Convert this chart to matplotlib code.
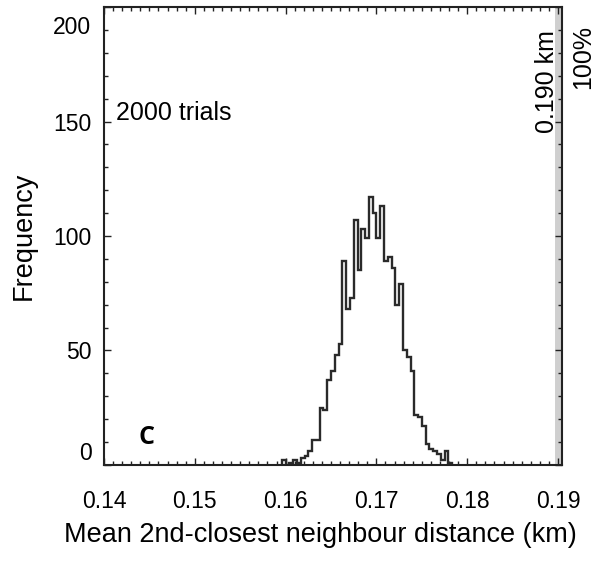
import numpy as np
import matplotlib
matplotlib.use("Agg")
import matplotlib.pyplot as plt
from matplotlib.ticker import MultipleLocator
from matplotlib.transforms import ScaledTranslation

plt.rcParams['font.family'] = ['Liberation Sans', 'DejaVu Sans']

# histogram data
bin_start = 0.15958      # km, left edge of first bin
bin_width = 0.000417     # km
counts = [2, 0, 1, 2, 1, 3, 4, 6, 11, 11, 25, 24, 37, 41, 48, 53,
          89, 68, 73, 107, 85, 103, 99, 117, 110, 99, 113, 89, 91, 86, 70,
          79, 50, 47, 41, 22, 21, 17, 9, 7, 6, 5, 2, 6, 1]
observed_km = 0.190
n_trials = 2000

x_ticks = [0.14, 0.15, 0.16, 0.17, 0.18, 0.19]
x_ticklabels = ['0.14', '0.15', '0.16', '0.17', '0.18', '0.19']
y_ticks = [0, 50, 100, 150, 200]

edges = bin_start + bin_width * np.arange(len(counts) + 1)

fig = plt.figure(figsize=(5.98, 5.65), dpi=100)
ax = fig.add_axes([0.1739, 0.177, 0.9398 - 0.1739, 0.9876 - 0.177])

ax.axvline(observed_km, color='#cfcfcf', lw=5, zorder=1)
ax.stairs(counts, edges, baseline=0, fill=False, color='#2a2a2a', lw=1.7, zorder=3)

ax.set_xlim(0.14, 0.19044)
ax.set_ylim(0, 200)
ax.set_xticks(x_ticks)
ax.set_xticklabels(x_ticklabels)
ax.set_yticks(y_ticks)
ax.xaxis.set_minor_locator(MultipleLocator(0.001))
ax.yaxis.set_minor_locator(MultipleLocator(10))
ax.tick_params(which='both', direction='in', top=True, right=True,
               width=1.0, color='#222222')
ax.tick_params(which='major', length=5)
ax.tick_params(which='minor', length=3)
ax.tick_params(axis='x', which='major', labelsize=16.5, pad=18)
ax.tick_params(axis='y', which='major', labelsize=16.5, pad=9)
for sp in ax.spines.values():
    sp.set_linewidth(1.5)
    sp.set_color('#222222')
    sp.set_zorder(4)

yt = ax.yaxis.get_major_ticks()
yt[0].label1.set_verticalalignment('bottom')
yt[-1].label1.set_verticalalignment('top')
yt[-1].label1.set_transform(yt[-1].label1.get_transform()
                            + ScaledTranslation(0, -0.09, fig.dpi_scale_trans))

ax.set_xlabel('Mean 2nd-closest neighbour distance (km)', fontsize=19.5)
ax.xaxis.set_label_coords(0.4716, -0.125)
ax.set_ylabel('Frequency', fontsize=19.5, labelpad=12)

ax.text(0.027, 0.768, f'{n_trials} trials', transform=ax.transAxes,
        fontsize=18, ha='left', va='center')
ax.text(0.092, 0.06, 'C', transform=ax.transAxes, fontsize=18,
        fontweight='bold', family='Open Sans', ha='center', va='center')
ax.text(observed_km - 0.00125, 190, f'{observed_km:.3f} km', rotation=90,
        fontsize=18, ha='center', va='top')
ax.text(1.046, 0.96, '100%', transform=ax.transAxes, rotation=90,
        fontsize=18, ha='center', va='top')

fig.savefig('out.png', dpi=100)
